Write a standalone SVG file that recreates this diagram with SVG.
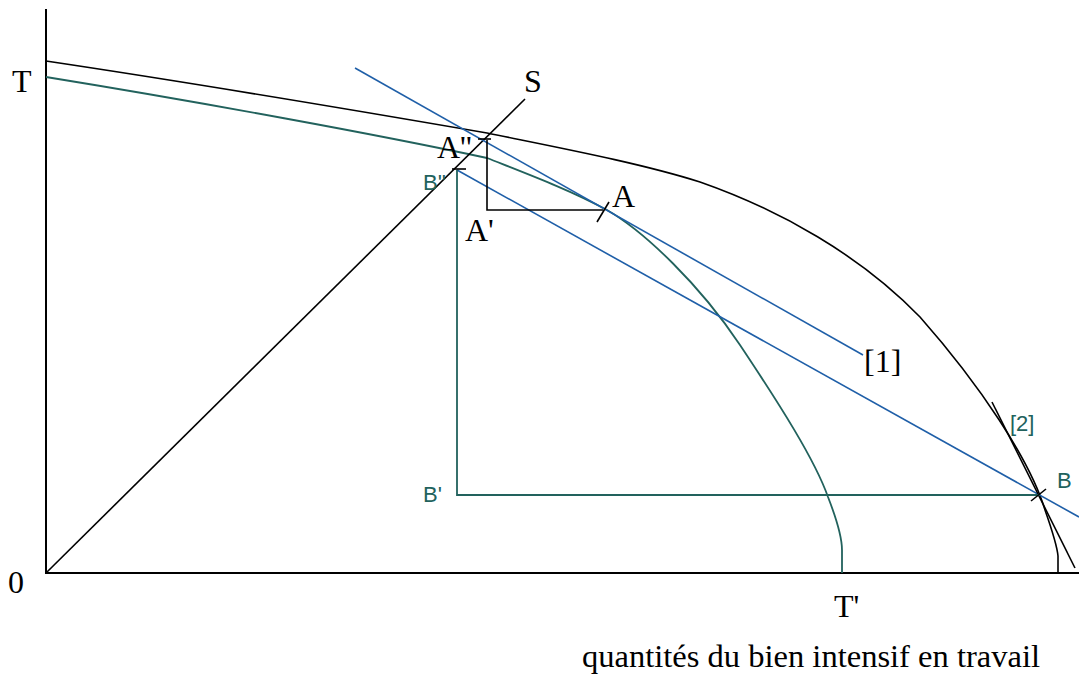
<svg xmlns="http://www.w3.org/2000/svg" width="1079" height="677" viewBox="0 0 1079 677">
<style>
.k{fill:none;stroke:#000;stroke-width:1.6}
.ax{fill:none;stroke:#000;stroke-width:2}
.g{fill:none;stroke:#22625d;stroke-width:1.8}
.b{fill:none;stroke:#1f5fa8;stroke-width:1.6}
.st{font-family:"Liberation Serif","Times New Roman",serif;font-size:32px;fill:#000}
.ss{font-family:"Liberation Sans",Arial,sans-serif;font-size:22px;fill:#22625d}
</style>
<rect width="1079" height="677" fill="#fff"/>
<g id="axes">
<line class="ax" x1="46" y1="9" x2="46" y2="574"/>
<line class="ax" x1="45" y1="573" x2="1079" y2="573"/>
</g>
<g id="curves">
<path id="curve-TT-black" class="k" d="M46,61 C200,84 400,118 487,133 C560,148 640,163 700,182 C780,210 860,255 920,317 C980,385 1030,460 1045,510 C1052,530 1057,545 1058,556 L1058,573"/>
<path id="curve-TT-green" class="g" d="M46,77 C200,102 380,135 487,158 C530,175 570,190 607,210 C645,232 700,285 740,345 C780,405 815,460 828,497 C835,515 842,535 842,550 L842,573"/>
</g>
<g id="connectors">
<line id="ray-S" class="k" x1="46" y1="573" x2="525" y2="99"/>
<line id="price-1" class="b" x1="355" y1="68" x2="863" y2="355"/>
<line id="price-2" class="b" x1="457" y1="170" x2="1079" y2="517"/>
<line id="tangent-2" class="k" x1="992" y1="402" x2="1075" y2="568"/>
<polyline id="box-A" class="k" points="487,140 487,210 603,210"/>
<polyline id="box-B" class="g" points="457,170 457,495 1040,495"/>
<line class="k" x1="478" y1="139" x2="491" y2="139"/>
<line class="k" x1="452" y1="169" x2="466" y2="169"/>
<line class="k" x1="597" y1="222" x2="609" y2="202"/>
<line class="k" x1="1031" y1="501" x2="1046" y2="489"/>
</g>
<g id="labels">
<text class="st" x="12" y="92">T</text>
<text class="st" x="8" y="593">0</text>
<text class="st" x="524" y="92">S</text>
<text class="st" x="437" y="158" font-size="30">A''</text>
<text class="st" x="465" y="241" font-size="30">A'</text>
<text class="st" x="612" y="207" font-size="30">A</text>
<text class="st" x="834" y="617">T'</text>
<text class="st" x="864" y="372">[1]</text>
<text class="st" x="582" y="667" font-size="30" textLength="458" lengthAdjust="spacingAndGlyphs">quantités du bien intensif en travail</text>
<text class="ss" x="423" y="190">B''</text>
<text class="ss" x="423" y="502">B'</text>
<text class="ss" x="1057" y="488">B</text>
<text class="ss" x="1010" y="431">[2]</text>
</g>
</svg>
